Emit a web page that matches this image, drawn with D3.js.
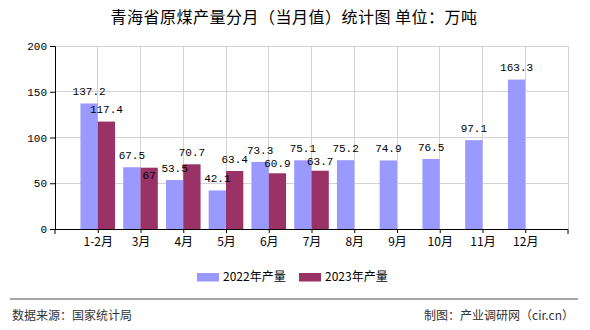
<!DOCTYPE html>
<html>
<head>
<meta charset="utf-8">
<script src="https://cdn.jsdelivr.net/npm/d3@7"></script>
<style>
  html, body { margin: 0; padding: 0; background: #fff; }
  svg { display: block; }
</style>
</head>
<body>
<svg id="chart" width="590" height="330"></svg>
<script>
const categories = ["1-2月", "3月", "4月", "5月", "6月", "7月", "8月", "9月", "10月", "11月", "12月"];
const values2022 = [137.2, 67.5, 53.5, 42.1, 73.3, 75.1, 75.2, 74.9, 76.5, 97.1, 163.3];
const values2023 = [117.4, 67, 70.7, 63.4, 60.9, 63.7];
const seriesNames = ["2022年产量", "2023年产量"];
const yTicks = [0, 50, 100, 150, 200];
const titleText = "青海省原煤产量分月（当月值）统计图 单位：万吨";
const sourceText = "数据来源：国家统计局";
const creditText = "制图：产业调研网（cir.cn）";

(function () {
const colors = ["#9999FF", "#993366"];
const numFont = "'Liberation Mono', 'DejaVu Sans Mono', monospace";
const cjkFont = "'Noto Sans CJK SC', 'Noto Sans', sans-serif";

const svg = d3.select("#chart");
const pLeft = 55, pRight = 568, pTop = 46, pBottom = 229;
const step = (pRight - pLeft) / (categories.length + 1);

const x = d3.scalePoint().domain(categories).range([pLeft + step, pRight - step]);
const y = d3.scaleLinear().domain([0, 200]).range([pBottom, pTop]);
const barW = step * 0.405;

// title
svg.append("text").attr("x", 294).attr("y", 23).attr("text-anchor", "middle")
  .style("font-family", cjkFont).style("font-size", "16px").style("letter-spacing", "0.5px")
  .attr("fill", "#000").text(titleText);

// grid
const g = svg.append("g");
g.selectAll("line.hg").data(yTicks.filter(d => d > 0)).enter().append("line")
  .attr("x1", pLeft).attr("x2", pRight).attr("y1", d => y(d)).attr("y2", d => y(d))
  .attr("stroke", "#d3d3d3").attr("stroke-width", 1).attr("shape-rendering", "crispEdges");
g.selectAll("line.vg").data(categories).enter().append("line")
  .attr("x1", d => x(d)).attr("x2", d => x(d)).attr("y1", pTop).attr("y2", pBottom)
  .attr("stroke", "#d3d3d3").attr("stroke-width", 1).attr("shape-rendering", "crispEdges");
g.append("line").attr("x1", pRight).attr("x2", pRight).attr("y1", pTop).attr("y2", pBottom)
  .attr("stroke", "#d3d3d3").attr("shape-rendering", "crispEdges");

// bars
const series = [values2022, values2023];
series.forEach((vals, si) => {
  svg.append("g").selectAll("rect").data(vals).enter().append("rect")
    .attr("x", (d, i) => si === 0 ? x(categories[i]) - barW : x(categories[i]))
    .attr("y", d => y(d))
    .attr("width", barW)
    .attr("height", d => y(0) - y(d))
    .attr("fill", colors[si]);
});

// y axis
const yAxis = d3.axisLeft(y).tickValues(yTicks).tickSize(5).tickPadding(3);
const ya = svg.append("g").attr("transform", `translate(${pLeft},0)`).call(yAxis);
ya.select(".domain").attr("stroke", "#000");
ya.selectAll(".tick line").attr("stroke", "#000");
ya.selectAll("text").style("font-family", numFont).style("font-size", "11px").attr("fill", "#000");

// x axis
const xAxis = d3.axisBottom(x).tickSize(4).tickPadding(4).tickSizeOuter(0);
const xa = svg.append("g").attr("transform", `translate(0,${pBottom})`).call(xAxis);
xa.select(".domain").attr("d", `M${pLeft},0.5H${pRight}`).attr("stroke", "#000");
xa.selectAll(".tick line").attr("stroke", "#000");
xa.selectAll("text").style("font-family", cjkFont).style("font-size", "12px").attr("fill", "#000");
[pLeft, pRight].forEach(px => xa.append("line").attr("x1", px).attr("x2", px).attr("y1", 0).attr("y2", 5).attr("stroke", "#000"));

// value labels with simple collision avoidance
const lab1 = values2022.map((v, i) => ({ v, cx: x(categories[i]) - barW / 2, cy: y(v) - 12 }));
const lab2 = values2023.map((v, i) => {
  let cy = y(v) - 12;
  const other = lab1[i].cy;
  const diff = cy - other;
  if (Math.abs(diff) < 13) cy = other + (Math.abs(diff) < 3 ? 20 : 13);
  return { v, cx: x(categories[i]) + barW / 2, cy };
});
[lab1, lab2].forEach(labs => {
  svg.append("g").selectAll("text").data(labs).enter().append("text")
    .attr("x", d => d.cx).attr("y", d => d.cy).attr("dy", "0.35em").attr("text-anchor", "middle")
    .style("font-family", numFont).style("font-size", "11px").attr("fill", "#000")
    .text(d => d.v);
});

// legend
const legendX = [197, 299];
seriesNames.forEach((name, i) => {
  svg.append("rect").attr("x", legendX[i]).attr("y", 273).attr("width", 22).attr("height", 8.5).attr("fill", colors[i]);
  svg.append("text").attr("x", legendX[i] + 26).attr("y", 277).attr("dy", "0.35em")
    .style("font-family", cjkFont).style("font-size", "12px").attr("fill", "#000").text(name);
});

// footer
svg.append("line").attr("x1", 10).attr("x2", 578).attr("y1", 299).attr("y2", 299)
  .attr("stroke", "#888").attr("stroke-width", 1.5);
svg.append("text").attr("x", 12).attr("y", 316).attr("dy", "0.35em")
  .style("font-family", cjkFont).style("font-size", "12px").attr("fill", "#333").text(sourceText);
svg.append("text").attr("x", 574).attr("y", 316).attr("dy", "0.35em").attr("text-anchor", "end")
  .style("font-family", cjkFont).style("font-size", "12px").attr("fill", "#333").text(creditText);
})();
</script>
</body>
</html>
